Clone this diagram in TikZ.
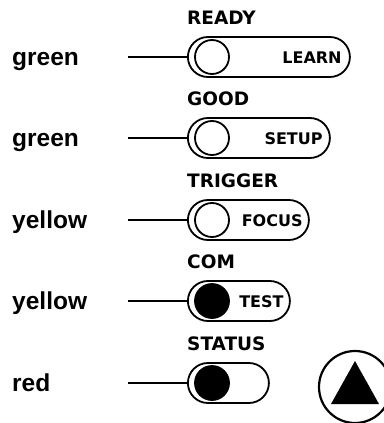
\documentclass[tikz,border=0pt]{standalone}
\usepackage{fontspec}
\setmainfont{Liberation Sans}
\newfontfamily\keyfont{DejaVu Sans}
\usepackage{tikz}
\usetikzlibrary{positioning}

\begin{document}
\begin{tikzpicture}[x=1pt, y=-1pt,
	pill/.style = {draw, line width=1.8pt, rounded corners=20pt, minimum height=40pt, inner sep=0pt, anchor=west},
	led/.style = {draw, circle, line width=1.8pt, minimum size=34pt, inner sep=0pt},
	ledOn/.style = {led, fill=black},
	head/.style = {font=\keyfont\bfseries\fontsize{18.5}{20}\selectfont, inner sep=0pt, anchor=base west},
	key/.style = {font=\keyfont\bfseries\fontsize{16}{18}\selectfont, inner sep=0pt, anchor=base east},
	colour/.style = {font=\bfseries\fontsize{24.5}{28}\selectfont, inner sep=0pt, anchor=base west},
	wire/.style = {line width=1.8pt}]
	\useasboundingbox (0,0) rectangle (383,423);

	\node[pill, minimum width=162pt] (pillReady) at (187,57) {};
	\node[pill, minimum width=142pt] (pillGood) at (187,138) {};
	\node[pill, minimum width=121pt] (pillTrigger) at (187,220) {};
	\node[pill, minimum width=102pt] (pillCom) at (187,301) {};
	\node[pill, minimum width=81pt] (pillStatus) at (187,383) {};

	\node[head] (ready) at ([yshift=12pt]pillReady.north west) {READY};
	\node[head] (good) at ([yshift=12pt]pillGood.north west) {GOOD};
	\node[head] (trigger) at ([yshift=12pt]pillTrigger.north west) {TRIGGER};
	\node[head] (com) at ([yshift=12pt]pillCom.north west) {COM};
	\node[head] (status) at ([yshift=12pt]pillStatus.north west) {STATUS};

	\node[led] (ledReady) at ([xshift=25pt]pillReady.west) {};
	\node[led] (ledGood) at ([xshift=25pt]pillGood.west) {};
	\node[led] (ledTrigger) at ([xshift=25pt]pillTrigger.west) {};
	\node[ledOn] (ledCom) at ([xshift=25pt]pillCom.west) {};
	\node[ledOn] (ledStatus) at ([xshift=25pt]pillStatus.west) {};

	\node[key] (learn) at ([xshift=-9pt, yshift=-6pt]pillReady.east) {LEARN};
	\node[key] (setup) at ([xshift=-8pt, yshift=-6pt]pillGood.east) {SETUP};
	\node[key] (focus) at ([xshift=-7pt, yshift=-6pt]pillTrigger.east) {FOCUS};
	\node[key] (test) at ([xshift=-7pt, yshift=-6pt]pillCom.east) {TEST};

	\node[colour] (colReady) at (12,65) {green};
	\node[colour] (colGood) at (12,146) {green};
	\node[colour] (colTrigger) at (12,228) {yellow};
	\node[colour] (colCom) at (12,309) {yellow};
	\node[colour] (colStatus) at (12,391) {red};

	\coordinate (wireReady) at (128,57);
	\coordinate (wireGood) at (128,138);
	\coordinate (wireTrigger) at (128,220);
	\coordinate (wireCom) at (128,301);
	\coordinate (wireStatus) at (128,383);
	\draw[wire] (wireReady) -- (pillReady.west);
	\draw[wire] (wireGood) -- (pillGood.west);
	\draw[wire] (wireTrigger) -- (pillTrigger.west);
	\draw[wire] (wireCom) -- (pillCom.west);
	\draw[wire] (wireStatus) -- (pillStatus.west);

	% arrow button
	\node[draw, circle, line width=2.2pt, minimum size=72pt, inner sep=0pt] (arrowBtn) at (355,387) {};
	\fill ([shift={(0,-26)}]arrowBtn.center) -- ([shift={(-24,17)}]arrowBtn.center) -- ([shift={(24,17)}]arrowBtn.center) -- cycle;
\end{tikzpicture}
\end{document}
